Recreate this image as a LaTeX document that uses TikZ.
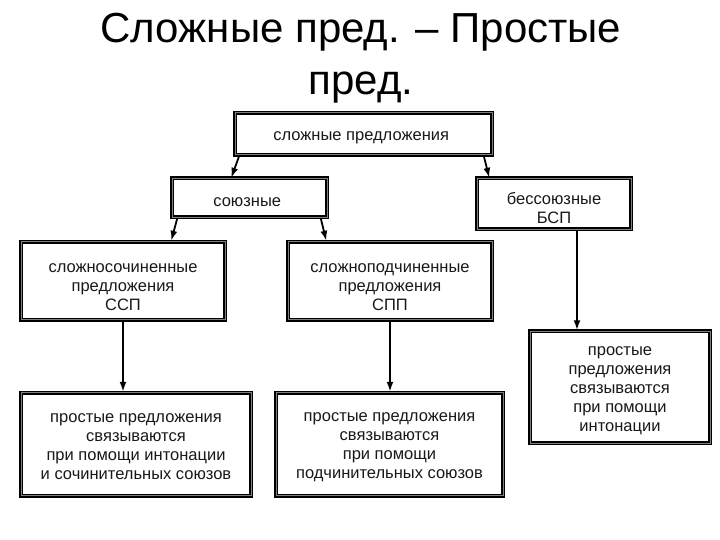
\documentclass[tikz,border=0pt]{standalone}
\usepackage{fontspec}
\setmainfont{Liberation Sans}
\usetikzlibrary{arrows.meta}
\newcommand{\padtop}[1]{\rule{0pt}{#1}}

\begin{document}
\begin{tikzpicture}
    [
      x=1pt, y=-1pt,
      box/.style=
      {
        align=center,
        inner sep=0pt,
        draw=black,
        line width=1.5pt,
        double=black!50,
        double distance=1pt,
        fill=white,
        text=black!90,
        font=\fontsize{16.5}{19}\selectfont
      },
      arr/.style=
      {
        line width=1.8pt,
        -{Latex[length=10pt,width=7pt]}
      },
      title/.style=
      {
        align=center,
        inner sep=0pt,
        font=\fontsize{42}{52}\selectfont
      }
    ]
    \useasboundingbox[fill=white] (0,0) rectangle (720,540);

    \node[title](Title) at (361,58)
    {
      Сложные пред. -- Простые\\ пред.
    };

    % upper level
    \node[box, minimum width=257pt, minimum height=42pt](Slozh) at (363.5,134)
    {
      \padtop{17pt}сложные предложения
    };
    \node[box, minimum width=155pt, minimum height=39pt](Sojuz) at (249.5,198)
    {
      \padtop{17pt}союзные
    };
    \node[box, minimum width=154pt, minimum height=51pt](Bess) at (554,204)
    {
      \padtop{20.5pt}бессоюзные\\ БСП
    };

    % middle level
    \node[box, minimum width=204pt, minimum height=78pt](SSP) at (123,280.5)
    {
      \padtop{22.5pt}сложносочиненные\\ предложения\\ ССП
    };
    \node[box, minimum width=204pt, minimum height=78pt](SPP) at (390,280.5)
    {
      \padtop{22.5pt}сложноподчиненные\\ предложения\\ СПП
    };

    % lower level
    \node[box, minimum width=230pt, minimum height=103pt](ProstA) at (136,444)
    {
      \padtop{14.5pt}простые предложения\\ связываются\\ при помощи интонации\\ и сочинительных союзов
    };
    \node[box, minimum width=227pt, minimum height=103pt](ProstB) at (389.5,444)
    {
      \padtop{14.5pt}простые предложения\\ связываются\\ при помощи\\ подчинительных союзов
    };
    \node[box, minimum width=180pt, minimum height=112pt](ProstC) at (620,387)
    {
      \padtop{16.5pt}простые\\ предложения\\ связываются\\ при помощи\\ интонации
    };

    % arrows
    \draw[arr] ([xshift=5pt]Slozh.south west) -- ([xshift=60pt]Sojuz.north west);
    \draw[arr] ([xshift=-9pt]Slozh.south east) -- ([xshift=13pt]Bess.north west);
    \draw[arr] ([xshift=6pt]Sojuz.south west) -- ([xshift=151pt]SSP.north west);
    \draw[arr] ([xshift=-7pt]Sojuz.south east) -- ([xshift=39pt]SPP.north west);
    \draw[arr] ([xshift=23pt]Bess.south) -- ([xshift=-43pt]ProstC.north);
    \draw[arr] (SSP.south) -- (SSP.south |- ProstA.north);
    \draw[arr] (SPP.south) -- (SPP.south |- ProstB.north);
  \end{tikzpicture}
\end{document}
